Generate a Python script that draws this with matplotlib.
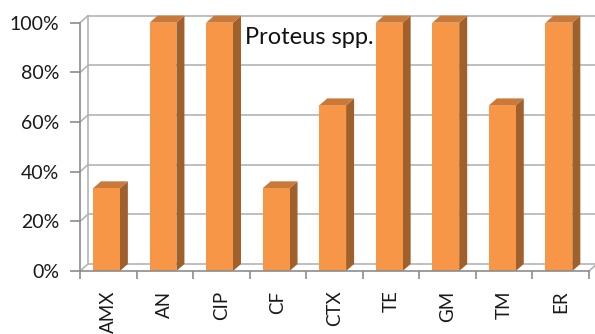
import matplotlib.pyplot as plt
from matplotlib.patches import Polygon
from matplotlib.ticker import PercentFormatter
import numpy as np

plt.rcParams['font.family'] = ['Lato', 'DejaVu Sans']

# antibiotic resistance, Proteus spp.
drugs = ["AMX", "AN", "CIP", "CF", "CTX", "TE", "GM", "TM", "ER"]
resistance = [0.333, 1.0, 1.0, 0.333, 0.667, 1.0, 1.0, 0.667, 1.0]
yticks = [0.0, 0.2, 0.4, 0.6, 0.8, 1.0]

front = "#F79646"
side = "#A0602C"
top = "#C9793A"
grid = "#B4B4B4"
axis_col = "#8C8C8C"

W, H = 595, 334
fig = plt.figure(figsize=(W / 100, H / 100), dpi=100)
x0, x1, y0, y1 = 80, 589, 271, 22.7
ax = fig.add_axes([x0 / W, 1 - y0 / H, (x1 - x0) / W, (y0 - y1) / H])
ax.set_xlim(0, len(drugs))
ax.set_ylim(0, 1)

# depth of the 3d box, in data units
px_x = len(drugs) / (x1 - x0)
px_y = 1 / (y0 - y1)
dx, dy = 8 * px_x, 7 * px_y

# back wall gridlines and the short links to the front axis
for t in yticks:
    ax.plot([dx, len(drugs) + dx], [t + dy, t + dy], color=grid, lw=1.2,
            clip_on=False, zorder=1)
    ax.plot([0, dx], [t, t + dy], color=grid, lw=1.2, clip_on=False, zorder=1)
ax.plot([dx, dx], [dy, 1 + dy], color=grid, lw=1.2, clip_on=False, zorder=1)
ax.plot([len(drugs), len(drugs) + dx], [0, dy], color=grid, lw=1.2,
        clip_on=False, zorder=1)

bw0, bw1 = 0.23, 0.705
for i, v in enumerate(resistance):
    a, b = i + bw0, i + bw1
    ax.add_patch(Polygon([(b, 0), (b + dx, dy), (b + dx, v + dy), (b, v)],
                         closed=True, fc=side, ec="none", clip_on=False, zorder=3))
    ax.add_patch(Polygon([(a, v), (a + dx, v + dy), (b + dx, v + dy), (b, v)],
                         closed=True, fc=top, ec="none", clip_on=False, zorder=3))
    ax.add_patch(Polygon([(a, 0), (b, 0), (b, v), (a, v)],
                         closed=True, fc=front, ec="none", clip_on=False, zorder=4))

for s in ["top", "right"]:
    ax.spines[s].set_visible(False)
for s in ["left", "bottom"]:
    ax.spines[s].set_color(axis_col)
    ax.spines[s].set_linewidth(1.2)
    ax.spines[s].set_zorder(5)

ax.set_yticks(yticks)
ax.yaxis.set_major_formatter(PercentFormatter(1.0, decimals=0))
ax.tick_params(axis="y", length=7, width=1.2, color=axis_col, pad=8,
               labelsize=14, labelcolor="#1a1a1a")

ax.set_xticks(np.arange(len(drugs)) + 0.5)
ax.set_xticklabels(drugs, rotation=90, va="top", ha="center")
ax.set_xticks(np.arange(len(drugs) + 1), minor=True)
ax.tick_params(axis="x", which="major", length=0, pad=14, labelsize=13.5,
               labelcolor="#1a1a1a")
ax.tick_params(axis="x", which="minor", length=6, width=1.2, color=axis_col)

fig.text(309 / W, 1 - 38 / H, "Proteus spp.", ha="center", va="center",
         fontsize=17, color="#111111")

fig.savefig("out.png", dpi=100)
